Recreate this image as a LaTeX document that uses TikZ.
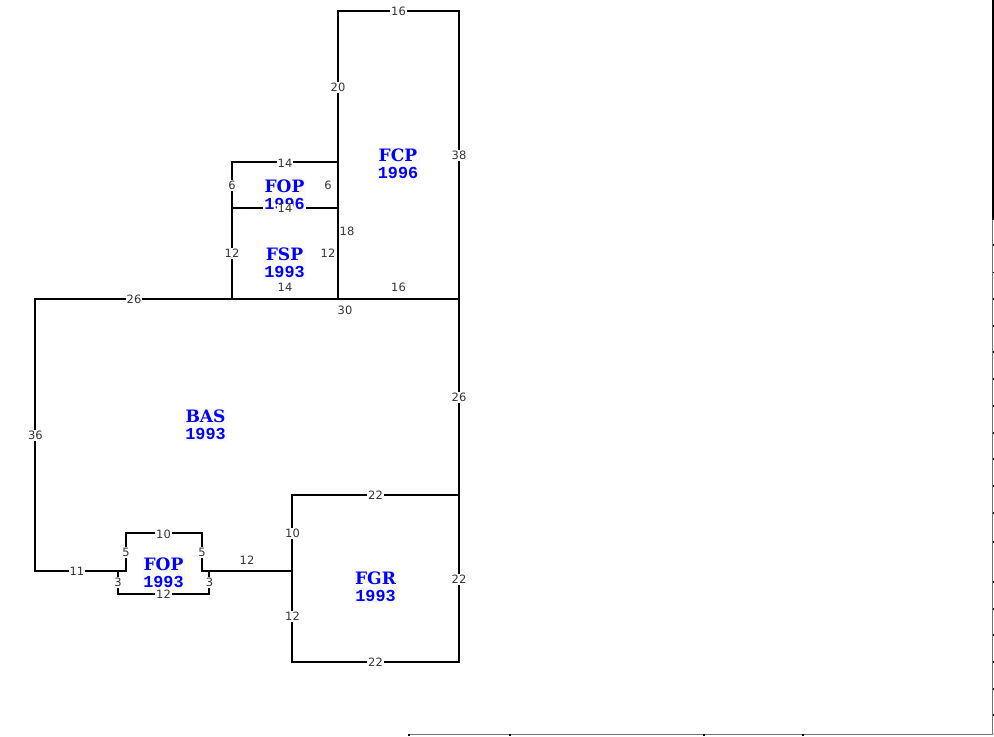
\documentclass[tikz,border=0pt]{standalone}
\usepackage{fontspec}
\setmainfont{DejaVu Sans}
\newfontfamily\areafont{Liberation Mono}
\newfontfamily\arealetters{DejaVu Serif}
\newcommand{\areatext}[2]{{\arealetters\fontsize{12.8pt}{12.6pt}\selectfont #1}\\#2}
\tikzset{
  wall/.style={draw=black,line width=1.7pt,line cap=round,line join=miter},
  dim/.style={fill=white,inner sep=0.6pt,text=black!80,yshift=-0.4pt,font=\fontsize{8.6pt}{9pt}\selectfont},
  nofill/.style={dim,fill=none},
  area/.style={fill=black!2,inner sep=1pt,text=blue,align=center,font=\areafont\bfseries\fontsize{12.6pt}{12.6pt}\selectfont},
  frame/.style={draw=black!55,line width=0.9pt},
  tick/.style={draw=black,line width=0.8pt}
}
\begin{document}
\begin{tikzpicture}[x=0.75pt,y=-0.75pt]
\useasboundingbox (0,0) rectangle (994,736);
% page frame at right and bottom
\draw[frame] (992.7,0) -- (992.7,734.5) -- (408.5,734.5);
\draw[draw=black,line width=1.2pt] (992.7,0) -- (992.7,155);
\draw[draw=black,line width=1.8pt] (993,155) -- (993,220);
\foreach \yy in {245,272.5,299,326,352,379,406,433,459,486,513,542,582,609,635,662,689,715}
  \draw[tick] (992.7,\yy) -- (994,\yy);
\foreach \xx in {409,510,704,803}
  \draw[tick] (\xx,733.5) -- (\xx,736);
% walls
\coordinate (a) at (35,299);
\coordinate (b) at (459,299);
\coordinate (c) at (459,662);
\coordinate (d) at (292,662);
\coordinate (e) at (292,571);
\coordinate (f) at (35,571);
\draw[wall] (e) -- (209,571) -- (202,571) -- (202,533) -- (126,533) -- (126,571) -- (f) -- (a) -- (b) -- (c) -- (d) -- (e) -- (292,495) -- (459,495);
\draw[wall] (126,571) -- (118,571) -- (118,594) -- (209,594) -- (209,571);
\draw[wall] (232,299) -- (232,162) -- (338,162);
\draw[wall] (232,208) -- (338,208);
\draw[wall] (338,299) -- (338,11) -- (459,11) -- (459,299);
% dimensions
\node[dim] (d16t) at (398.5,11) {16};
\node[dim] (d20) at (338,87) {20};
\node[dim] (d38) at (459,155) {38};
\node[dim] (d14a) at (285,162.5) {14};
\node[dim] (d6a) at (232,185) {6};
\node[nofill] (d6b) at (328,185) {6};
\node[area] (fop2) at (284.5,195) {\areatext{FOP}{1996}};
\node[dim] (d14b) at (285,208) {14};
\node[nofill] (d18) at (347,231) {18};
\node[dim] (d12a) at (232,253) {12};
\node[nofill] (d12b) at (328,253) {12};
\node[area] (fsp) at (284.5,263) {\areatext{FSP}{1993}};
\node[nofill] (d14c) at (285,287) {14};
\node[nofill] (d16b) at (398.5,287) {16};
\node[dim] (d26a) at (134,298.5) {26};
\node[nofill] (d30) at (345,310) {30};
\node[area] (fcp) at (398,163.5) {\areatext{FCP}{1996}};
\node[dim] (d26b) at (459,397) {26};
\node[area] (bas) at (205.5,425) {\areatext{BAS}{1993}};
\node[dim] (d36) at (35.5,435) {36};
\node[dim] (d22a) at (375.5,495) {22};
\node[dim] (d10a) at (163.5,533.5) {10};
\node[dim] (d10b) at (292.5,533) {10};
\node[dim] (d5a) at (126,552) {5};
\node[dim] (d5b) at (202,552) {5};
\node[nofill] (d12c) at (247,560) {12};
\node[dim] (d11) at (77,571) {11};
\node[area] (fop1) at (163.5,572.5) {\areatext{FOP}{1993}};
\node[dim] (d3a) at (118,582) {3};
\node[dim] (d3b) at (209.5,582) {3};
\node[dim] (d12d) at (163.5,594) {12};
\node[area] (fgr) at (375.5,587) {\areatext{FGR}{1993}};
\node[dim] (d22b) at (459,579) {22};
\node[dim] (d12e) at (292.5,616) {12};
\node[dim] (d22c) at (375.5,662) {22};
\end{tikzpicture}
\end{document}
